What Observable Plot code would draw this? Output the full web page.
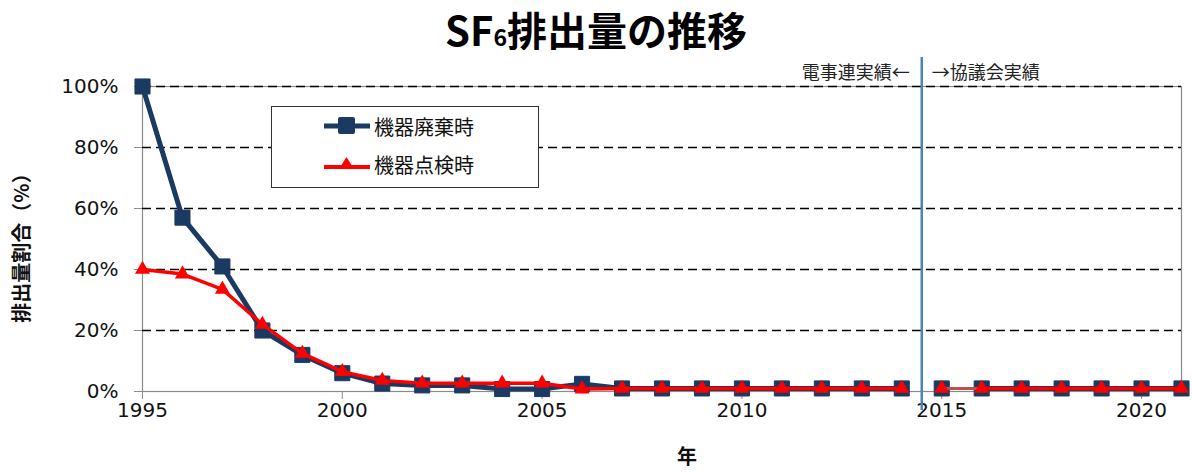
<!DOCTYPE html>
<html>
<head>
<meta charset="utf-8">
<script src="https://cdn.jsdelivr.net/npm/d3@7"></script>
<script src="https://cdn.jsdelivr.net/npm/@observablehq/plot@0.6"></script>
<style>
  body { margin: 0; background: #fff; font-family: "Noto Sans CJK JP", "Noto Sans", sans-serif; }
  #wrap { position: relative; width: 1192px; height: 472px; overflow: hidden; }
  #title { position: absolute; left: 0; top: 4px; width: 1192px; text-align: center; font-weight: bold;
           font-size: 40px; line-height: 50px; color: #000; font-family: "Noto Sans CJK JP", sans-serif; }
  #title sub { font-size: 23px; vertical-align: baseline; position: relative; top: 0px; }
  #chart { position: absolute; left: 0; top: 50px; }
  #legend { position: absolute; left: 271px; top: 106px; width: 268px; height: 82px; border: 1.5px solid #333;
            box-sizing: border-box; background: #fff; }
  .lg { position: absolute; left: 52px; height: 30px; display: flex; align-items: center; font-size: 20px; color: #111; }
  .lg svg { margin-right: 4px; }
</style>
</head>
<body>
<div id="wrap">
  <div id="title"></div>
  <div id="chart"></div>
  <div id="legend"></div>
</div>
<script>
// ---- data ----
const years   = [1995,1996,1997,1998,1999,2000,2001,2002,2003,2004,2005,2006,2007,2008,2009,2010,2011,2012,2013,2014,2015,2016,2017,2018,2019,2020,2021];
const haiki   = [100,57,41,20,12,6,2.6,2,2,0.8,0.8,2.5,1,1,1,1,1,1,1,1,1,1,1,1,1,1,1];
const tenken  = [40,38.5,33.5,22,12.5,6.5,3.6,2.7,2.7,2.7,2.7,0.8,1,1,1,1,1,1,1,1,1,1,1,1,1,1,1];
const seriesNames = ["機器廃棄時", "機器点検時"];
const seriesColors = ["#1B3A63", "#FF0000"];
const yTicks = [0,20,40,60,80,100];
const xTicks = [1995,2000,2005,2010,2015,2020];
const gridLines = [20,40,60,80,100];
const boundaryYear = [2014.5];
const leftNote = "電事連実績←";
const rightNote = "→協議会実績";
const yLabel = "排出量割合（%）";
const xLabel = "年";

// ---- title ----
document.getElementById("title").innerHTML = "SF<sub>6</sub>排出量の推移";

const seg = y => y <= 2014 ? "a" : (y === 2015 ? "b" : "c");
const rows = years.map((yr, i) => ({year: yr, value: haiki[i], s: seriesNames[0], seg: seg(yr)}));
const rowsT = years.map((yr, i) => ({year: yr, value: tenken[i], s: seriesNames[1], seg: seg(yr)}));
const bridge = rowsT.filter(d => d.year === 2015 || d.year === 2016);

const cjk = '"Noto Sans CJK JP", sans-serif';

const chart = Plot.plot({
  width: 1192,
  height: 422,
  marginLeft: 142,
  marginRight: 11,
  marginTop: 36,
  marginBottom: 81,
  style: { fontFamily: '"DejaVu Sans", sans-serif', fontSize: "20px", color: "#111", background: "#fff", overflow: "visible" },
  x: { domain: [1995, 2021], label: null },
  y: { domain: [0, 100], label: null },
  marks: [
    Plot.frame({ stroke: "#8a8a8a", strokeWidth: 1.2 }),
    Plot.ruleY(gridLines, { stroke: "#000", strokeWidth: 1.6, strokeDasharray: "9,5" }),
    Plot.axisY(yTicks, { tickSize: 8, tickPadding: 16, tickFormat: d => d + "%", stroke: "#8a8a8a", label: null, fontSize: 20 }),
    Plot.axisX(xTicks, { tickSize: 8, tickPadding: 3, tickFormat: d => String(d), stroke: "#8a8a8a", label: null, fontSize: 20 }),
    Plot.ruleX(boundaryYear, { stroke: "#4F81BD", strokeWidth: 2.5, insetTop: -29, insetBottom: -19 }),
    Plot.text(boundaryYear, { x: d => d, frameAnchor: "top", text: () => leftNote, textAnchor: "end", dx: -12, dy: -20, fontSize: 18, fontFamily: cjk, fill: "#222" }),
    Plot.text(boundaryYear, { x: d => d, frameAnchor: "top", text: () => rightNote, textAnchor: "start", dx: 10, dy: -20, fontSize: 18, fontFamily: cjk, fill: "#222" }),
    // series 1
    Plot.line(rows, { x: "year", y: "value", z: "seg", stroke: seriesColors[0], strokeWidth: 5, strokeLinejoin: "round" }),
    Plot.dot(rows, { x: "year", y: "value", symbol: "square", r: 8.5, fill: seriesColors[0], stroke: seriesColors[0], strokeWidth: 1, strokeLinejoin: "round" }),
    // series 2
    Plot.line(bridge, { x: "year", y: "value", stroke: "#C0504D", strokeWidth: 3 }),
    Plot.line(rowsT, { x: "year", y: "value", z: "seg", stroke: seriesColors[1], strokeWidth: 3.5, strokeLinejoin: "round" }),
    Plot.dot(rowsT, { x: "year", y: "value", symbol: "triangle", r: 5.6, fill: seriesColors[1], stroke: "none" }),
    // axis titles
    Plot.text([yLabel], { frameAnchor: "left", text: d => d, rotate: -90, textAnchor: "middle", dx: -120, dy: 4, fontSize: 20, fontWeight: "bold", fontFamily: cjk, fill: "#111" }),
    Plot.text([xLabel], { frameAnchor: "bottom", text: d => d, dx: 25, dy: 72, fontSize: 20, fontWeight: "bold", fontFamily: cjk, fill: "#111" })
  ]
});
document.getElementById("chart").appendChild(chart);

// ---- legend ----
const legend = document.getElementById("legend");
seriesNames.forEach((name, i) => {
  const div = document.createElement("div");
  div.className = "lg";
  div.style.top = (i === 0 ? 4 : 42) + "px";
  const marker = i === 0
    ? '<rect x="14" y="6" width="17" height="17" rx="2" fill="' + seriesColors[0] + '"/>'
    : '<path d="M22.5 8 L30 20 L15 20 Z" fill="' + seriesColors[1] + '"/>';
  const sw = i === 0 ? 5 : 4;
  div.innerHTML = '<svg width="46" height="30"><line x1="0" x2="46" y1="' + (i === 0 ? 15 : 18) + '" y2="' + (i === 0 ? 15 : 18) + '" stroke="' + seriesColors[i] + '" stroke-width="' + sw + '"/>' + marker + '</svg><span>' + name + '</span>';
  legend.appendChild(div);
});
</script>
</body>
</html>
